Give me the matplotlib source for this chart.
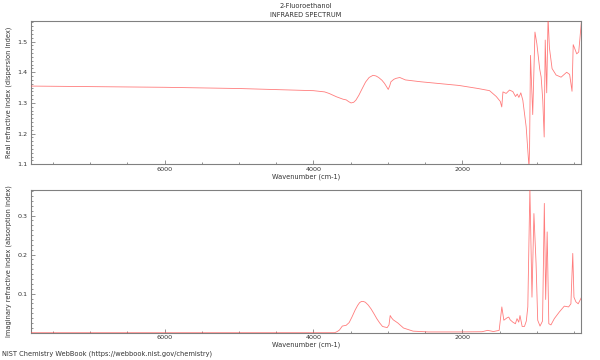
import matplotlib
matplotlib.use('Agg')
import matplotlib.pyplot as plt
from matplotlib.ticker import MultipleLocator, AutoMinorLocator

# 2-Fluoroethanol, real part (n) of the refractive index
wn_real = [7800, 6000, 5000, 4000, 3850, 3790, 3690, 3600, 3560, 3525, 3495, 3460, 3430, 3390,
           3355, 3300, 3252, 3200, 3160, 3124, 3080, 3046, 3015, 2995, 2975, 2959, 2920, 2892,
           2841, 2764, 2558, 2044, 1787, 1634, 1544, 1490, 1470, 1454, 1411, 1366, 1321, 1285,
           1262, 1240, 1214, 1187, 1142, 1104, 1096, 1084, 1054, 1024, 999, 960, 941, 919, 900,
           886, 866, 848, 830, 794, 740, 673, 598, 558, 526, 510, 486, 463, 436, 400]
n_real = [1.355, 1.351, 1.347, 1.340, 1.336, 1.331, 1.320, 1.312, 1.310, 1.304, 1.300, 1.302, 1.309, 1.325,
          1.342, 1.368, 1.383, 1.390, 1.388, 1.383, 1.374, 1.364, 1.352, 1.344, 1.356, 1.369, 1.377, 1.380,
          1.383, 1.375, 1.369, 1.357, 1.347, 1.340, 1.321, 1.305, 1.287, 1.336, 1.331, 1.342, 1.337, 1.321,
          1.329, 1.318, 1.333, 1.309, 1.222, 1.090, 1.156, 1.455, 1.262, 1.531, 1.494, 1.410, 1.385, 1.309,
          1.189, 1.505, 1.333, 1.580, 1.480, 1.412, 1.391, 1.384, 1.400, 1.393, 1.338, 1.490, 1.475, 1.460,
          1.466, 1.565]

# imaginary part (k), absorption index
wn_imag = [7800, 4000, 3715, 3680, 3650, 3612, 3560, 3520, 3483, 3440, 3406, 3380, 3355, 3330, 3303,
           3265, 3226, 3185, 3149, 3110, 3072, 3010, 2985, 2969, 2950, 2928, 2867, 2790, 2661, 2456,
           2044, 1736, 1659, 1582, 1505, 1469, 1442, 1400, 1376, 1357, 1321, 1287, 1265, 1242, 1225,
           1196, 1165, 1140, 1120, 1092, 1064, 1038, 1009, 987, 956, 922, 898, 880, 860, 838, 809,
           764, 697, 630, 572, 541, 516, 500, 474, 443, 400]
k_imag = [0.0, 0.0, 0.0, 0.003, 0.007, 0.017, 0.019, 0.026, 0.040, 0.058, 0.070, 0.077, 0.080, 0.080,
          0.078, 0.071, 0.061, 0.048, 0.036, 0.025, 0.016, 0.013, 0.020, 0.044, 0.038, 0.033, 0.025, 0.012,
          0.004, 0.002, 0.002, 0.0025, 0.006, 0.003, 0.006, 0.066, 0.032, 0.038, 0.040, 0.033, 0.027, 0.023,
          0.036, 0.027, 0.044, 0.016, 0.016, 0.030, 0.066, 0.370, 0.091, 0.305, 0.177, 0.032, 0.017, 0.030,
          0.331, 0.085, 0.258, 0.023, 0.020, 0.036, 0.053, 0.068, 0.066, 0.074, 0.203, 0.091, 0.079, 0.074,
          0.090]

line_color = '#ff5050'
grey = '#808080'

fig = plt.figure(figsize=(6, 3.6), dpi=100)
ax1 = fig.add_axes([0.051, 0.5436, 0.918, 0.398])
ax2 = fig.add_axes([0.051, 0.0758, 0.918, 0.3972])

ax1.plot(wn_real, n_real, color=line_color, lw=0.6, alpha=0.75, zorder=3)
ax2.plot(wn_imag, k_imag, color=line_color, lw=0.6, alpha=0.75, zorder=3)

ax1.set_ylim(1.1, 1.567)
ax2.set_ylim(0, 0.366)
ax1.set_yticks([1.1, 1.2, 1.3, 1.4, 1.5])
ax2.set_yticks([0.1, 0.2, 0.3])

for ax in (ax1, ax2):
    ax.set_xlim(7800, 400)
    ax.xaxis.set_major_locator(MultipleLocator(2000))
    ax.xaxis.set_minor_locator(MultipleLocator(500))
    ax.yaxis.set_minor_locator(AutoMinorLocator(8))
    ax.tick_params(which='both', direction='in', colors=grey, labelcolor='#333333',
                   labelsize=4.6, width=0.6, pad=2)
    ax.tick_params(which='major', length=3)
    ax.tick_params(which='minor', length=1.5)
    for s in ax.spines.values():
        s.set_color(grey)
        s.set_linewidth(0.8)
    ax.set_xlabel('Wavenumber (cm-1)', fontsize=4.8, color='#333333', labelpad=1)

ax1.set_ylabel('Real refractive index (dispersion index)', fontsize=4.8, color='#333333', labelpad=4)
ax2.set_ylabel('Imaginary refractive index (absorption index)', fontsize=4.8, color='#333333', labelpad=4)

fig.text(0.51, 0.983, '2-Fluoroethanol', ha='center', va='center', fontsize=4.8, color='#333333')
fig.text(0.51, 0.958, 'INFRARED SPECTRUM', ha='center', va='center', fontsize=4.8, color='#333333')
fig.text(0.003, 0.017, 'NIST Chemistry WebBook (https://webbook.nist.gov/chemistry)',
         ha='left', va='center', fontsize=4.8, color='#333333')

fig.savefig('out.png', dpi=100)
